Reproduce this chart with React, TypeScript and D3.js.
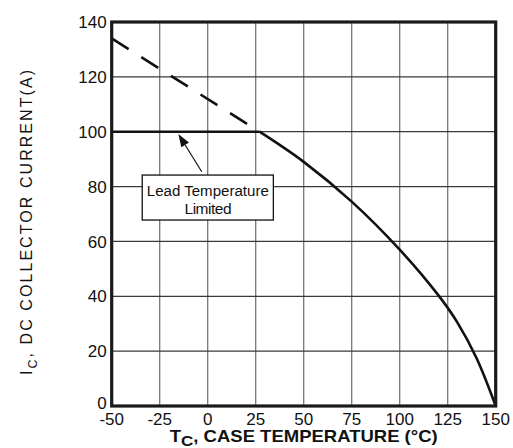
import React from "react";
import * as d3 from "d3";

const xTicks = [-50, -25, 0, 25, 50, 75, 100, 125, 150];
const yTicks = [0, 20, 40, 60, 80, 100, 120, 140];

// solid derating curve
const curveTemp = [27, 50, 75, 100, 120, 130, 140, 150];
const curveCurrent = [100, 89, 74.5, 57, 40.5, 30.5, 17.5, 0];

// dashed extension (package limit lifted)
const dashTemp = [-50, 27];
const dashCurrent = [134, 100];

// lead temperature limit
const limitTemp = [-50, 27];
const limitCurrent = [100, 100];

const W = 513;
const H = 448;
const left = 111.7;
const right = 495.7;
const top = 22;
const bottom = 406;

export default function App() {
  const x = d3.scaleLinear().domain([-50, 150]).range([left, right]);
  const y = d3.scaleLinear().domain([0, 140]).range([bottom, top]);
  const font = "'Liberation Sans', Arial, Helvetica, sans-serif";

  const line = d3
    .line<[number, number]>()
    .x((d) => x(d[0]))
    .y((d) => y(d[1]));
  const smooth = d3
    .line<[number, number]>()
    .x((d) => x(d[0]))
    .y((d) => y(d[1]))
    .curve(d3.curveCatmullRom.alpha(0.5));

  const curvePts = curveTemp.map((t, i) => [t, curveCurrent[i]] as [number, number]);
  const dashPts = dashTemp.map((t, i) => [t, dashCurrent[i]] as [number, number]);
  const limitPts = limitTemp.map((t, i) => [t, limitCurrent[i]] as [number, number]);

  // annotation (data coords)
  const boxX0 = x(-34.1), boxX1 = x(34.2), boxY0 = y(84.2), boxY1 = y(67.8);
  const arrowTail = [x(-3.1), y(85.4)];
  const arrowTip = [x(-15.3), y(99.2)];
  const ang = Math.atan2(arrowTip[1] - arrowTail[1], arrowTip[0] - arrowTail[0]);
  const hl = 13, hw = 4.5;
  const bx = arrowTip[0] - hl * Math.cos(ang);
  const by = arrowTip[1] - hl * Math.sin(ang);
  const px = -Math.sin(ang), py = Math.cos(ang);
  const head = `M${arrowTip[0]},${arrowTip[1]} L${bx + hw * px},${by + hw * py} L${bx - hw * px},${by - hw * py} Z`;
  const boxCx = (boxX0 + boxX1) / 2;

  return (
    <svg
      width={W}
      height={H}
      style={{ position: "absolute", left: 0, top: 0, background: "#fff" }}
      fontFamily={font}
    >
      {/* grid */}
      {xTicks.map((t) => (
        <line key={"gx" + t} x1={x(t)} x2={x(t)} y1={top} y2={bottom} stroke="#777" strokeWidth={1.3} />
      ))}
      {yTicks.map((t) => (
        <line key={"gy" + t} x1={left} x2={right} y1={y(t)} y2={y(t)} stroke="#3a3a3a" strokeWidth={1.2} />
      ))}

      {/* lines */}
      <path d={line(dashPts) || ""} fill="none" stroke="#111" strokeWidth={2.6} strokeDasharray="20,15" />
      <path d={line(limitPts) || ""} fill="none" stroke="#111" strokeWidth={2.6} />
      <path d={smooth(curvePts) || ""} fill="none" stroke="#111" strokeWidth={2.6} />

      {/* frame */}
      <rect x={left} y={top} width={right - left} height={bottom - top} fill="none" stroke="#1a1a1a" strokeWidth={3.2} />

      {/* y tick labels */}
      {yTicks.map((t) => (
        <text key={"yl" + t} x={left - 5} y={y(t) - (t === 0 ? 3 : 0)} dy="0.36em" textAnchor="end" fontSize={17} fill="#111">
          {t}
        </text>
      ))}
      {/* x tick labels */}
      {xTicks.map((t) => (
        <text key={"xl" + t} x={x(t)} y={425} textAnchor="middle" fontSize={17} fill="#111">
          {t}
        </text>
      ))}

      {/* x title */}
      <text
        x={(left + right) / 2}
        y={441.7}
        textAnchor="middle"
        fontSize={16.3}
        fontWeight="bold"
        fill="#111"
        textLength={268}
        lengthAdjust="spacingAndGlyphs"
      >
        T<tspan fontSize={15} dy={4}>C</tspan>
        <tspan dy={-4}>, CASE TEMPERATURE (°C)</tspan>
      </text>

      {/* y title */}
      <text
        transform={`translate(32,${222.5}) rotate(-90)`}
        textAnchor="middle"
        fontSize={16}
        fill="#111"
        textLength={305}
        lengthAdjust="spacing"
      >
        I<tspan fontSize={12.5} dy={5}>C</tspan>
        <tspan dy={-5}>,  DC  COLLECTOR  CURRENT(A)</tspan>
      </text>

      {/* annotation */}
      <line x1={arrowTail[0]} y1={arrowTail[1]} x2={bx} y2={by} stroke="#111" strokeWidth={1.2} />
      <path d={head} fill="#111" />
      <rect x={boxX0} y={boxY0} width={boxX1 - boxX0} height={boxY1 - boxY0} fill="#fff" stroke="#111" strokeWidth={1.3} />
      <text x={boxCx} y={196} textAnchor="middle" fontSize={15.5} fill="#111" textLength={122} lengthAdjust="spacingAndGlyphs">
        Lead Temperature
      </text>
      <text x={boxCx} y={214.3} textAnchor="middle" fontSize={15.5} fill="#111" letterSpacing={-0.5}>
        Limited
      </text>
    </svg>
  );
}
